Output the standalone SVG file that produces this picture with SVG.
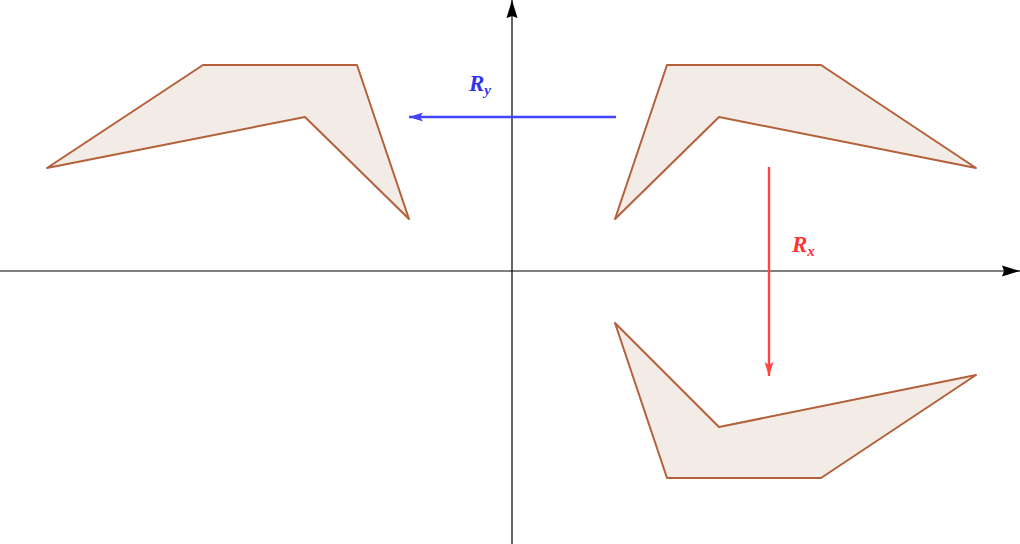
<svg xmlns="http://www.w3.org/2000/svg" width="1020" height="544" viewBox="0 0 1020 544">
<style>
.shape{fill:#f3ebe6;stroke:#b4603a;stroke-width:2;stroke-linejoin:round}
.axis{stroke:#000;stroke-width:1.2;fill:none}
.lbl{font-family:"Liberation Serif",serif;font-weight:bold;font-style:italic;font-size:23px}
.sub{font-size:15px}
</style>
<defs>
<marker id="ak" markerWidth="18" markerHeight="12" refX="18" refY="6" orient="auto" markerUnits="userSpaceOnUse"><path d="M0,0.5 L18,6 L0,11.5 L2,6 Z" fill="#000"/></marker>
<marker id="ab" markerWidth="14" markerHeight="10" refX="14" refY="5" orient="auto" markerUnits="userSpaceOnUse"><path d="M0,0.5 L14,5 L0,9.5 L3,5 Z" fill="#4444ff"/></marker>
<marker id="ar" markerWidth="14" markerHeight="10" refX="14" refY="5" orient="auto" markerUnits="userSpaceOnUse"><path d="M0,0.5 L14,5 L0,9.5 L3,5 Z" fill="#ff4444"/></marker>
</defs>
<g id="axes">
<line class="axis" x1="0" y1="271" x2="1020" y2="271" marker-end="url(#ak)"/>
<line class="axis" x1="512" y1="544" x2="512" y2="0" marker-end="url(#ak)"/>
</g>
<g id="shape-original"><polygon class="shape" points="667,65 821,65 976,168 719,117 615,219"/></g>
<g id="shape-ry"><polygon class="shape" points="357,65 203,65 47,168 305,117 409,219"/></g>
<g id="shape-rx"><polygon class="shape" points="667,478 821,478 976,375 719,427 615,323"/></g>
<g id="connectors">
<line x1="616" y1="117" x2="409" y2="117" stroke="#4444ff" stroke-width="2.4" marker-end="url(#ab)"/>
<line x1="769" y1="167" x2="769" y2="376" stroke="#ff4444" stroke-width="2.4" marker-end="url(#ar)"/>
</g>
<g id="labels">
<text class="lbl" x="469" y="91" fill="#3333ee">R<tspan class="sub" dy="4">y</tspan></text>
<text class="lbl" x="792" y="252" fill="#ff3333">R<tspan class="sub" dy="4">x</tspan></text>
</g>
</svg>
